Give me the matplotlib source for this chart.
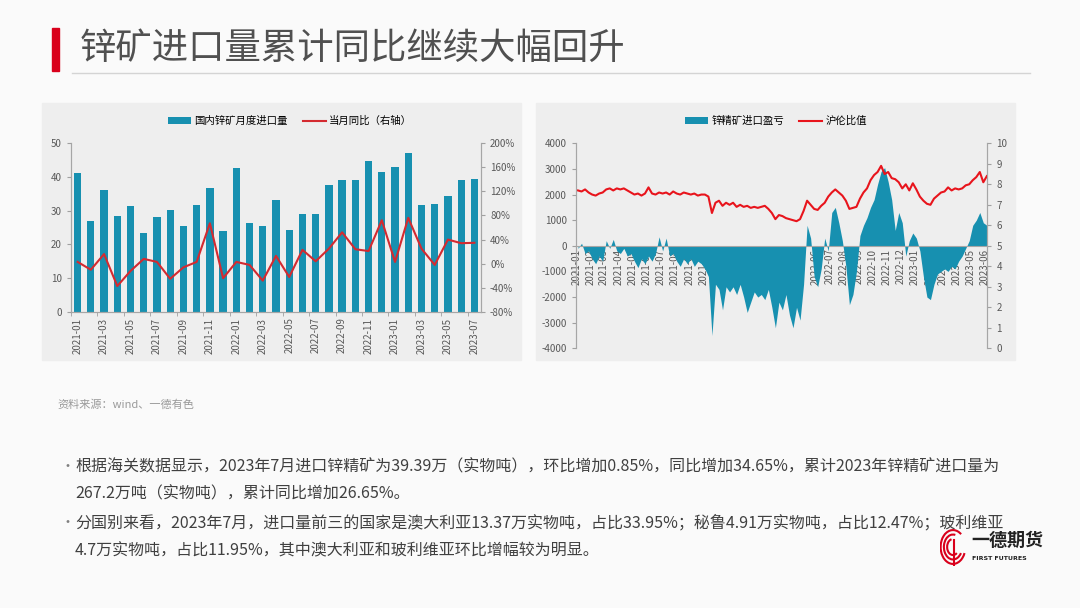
import numpy as np
import pandas as pd
import matplotlib
matplotlib.use('Agg')
import matplotlib.pyplot as plt
import matplotlib.dates as mdates
from matplotlib.patches import Rectangle, Arc
from matplotlib.lines import Line2D
from matplotlib.ticker import FuncFormatter

plt.rcParams['font.family'] = ['Noto Sans CJK SC', 'DejaVu Sans']
plt.rcParams['axes.unicode_minus'] = False

# ---- left chart: monthly zinc ore imports (10k t) and yoy (%)
months = ['2021-01', '2021-02', '2021-03', '2021-04', '2021-05', '2021-06', '2021-07', '2021-08',
          '2021-09', '2021-10', '2021-11', '2021-12', '2022-01', '2022-02', '2022-03', '2022-04',
          '2022-05', '2022-06', '2022-07', '2022-08', '2022-09', '2022-10', '2022-11', '2022-12',
          '2023-01', '2023-02', '2023-03', '2023-04', '2023-05', '2023-06', '2023-07']
imports = [41.0, 27.0, 36.0, 28.5, 31.3, 23.3, 28.0, 30.3, 25.3, 31.8, 36.8, 24.0,
           42.5, 26.3, 25.3, 33.0, 24.3, 29.0, 29.0, 37.5, 39.0, 39.2, 44.8, 41.5,
           43.0, 47.0, 31.8, 32.0, 34.3, 39.0, 39.39]
yoy = [3, -10, 16, -37, -12, 8, 3, -25, -6, 3, 67, -24,
       3, -2, -28, 13, -22, 23, 4, 25, 52, 24, 21, 72,
       3, 76, 25, -2, 40, 34, 34.65]

# ---- right chart: import profit (yuan/t) and SHFE/LME ratio, ~weekly readings
profit = [-100, 100, -300, -200,  -500, -700, -400, -600,  200, -100, 250, -200,
          -300, -100, -400, -300,  -600, -850, -500, -700,  -400, -600, -300, 350,
          -200, 300, -400, -300,  -600, -800, -500, -700,  -500, -800, -600, -700,
          -900, -1200, -3500, -1500,  -1700, -2500, -1600, -1800,  -1600, -1900, -1500, -2000,
          -2600, -2200, -1800, -2000,  -1900, -2100, -1700, -2400,  -3200, -2200, -2500, -1900,
          -2700, -3200, -2400, -2900,  -1500, 800, 300, -1200,  -1600, -900, 300, -200,
          1300, 1500, 900, 200,  -800, -2300, -1900, -1000,  400, 800, 1100, 1500,
          1800, 2400, 2900, 3050,  2500, 1800, 600, 1300,  900, -400, 200, 500,
          300, -200, -1200, -2000,  -2100, -1500, -1100, -1000,  -900, -1000, -800, -900,
          -600, -400, -100, 200,  800, 1000, 1300, 900,  800]
ratio = [7.7, 7.65, 7.75, 7.6,  7.5, 7.45, 7.55, 7.6,  7.75, 7.8, 7.7, 7.8,
         7.75, 7.8, 7.7, 7.6,  7.5, 7.55, 7.45, 7.55,  7.85, 7.55, 7.5, 7.6,
         7.55, 7.6, 7.5, 7.65,  7.55, 7.5, 7.6, 7.55,  7.5, 7.55, 7.45, 7.5,
         7.5, 7.4, 6.6, 7.1,  7.2, 6.95, 7.1, 7.0,  7.1, 6.9, 7.0, 6.9,
         6.95, 6.85, 6.9, 6.85,  6.9, 6.95, 6.8, 6.6,  6.3, 6.5, 6.45, 6.35,
         6.3, 6.25, 6.2, 6.3,  6.7, 7.2, 7.0, 6.8,  6.75, 6.95, 7.1, 7.4,
         7.6, 7.75, 7.6, 7.45,  7.2, 6.8, 6.85, 6.9,  7.3, 7.6, 7.8, 8.2,
         8.45, 8.6, 8.9, 8.5,  8.6, 8.3, 8.25, 8.1,  7.8, 8.0, 7.7, 8.05,
         7.75, 7.4, 7.2, 7.05,  7.0, 7.3, 7.45, 7.6,  7.65, 7.85, 7.7, 7.8,
         7.75, 7.8, 7.95, 8.0,  8.2, 8.35, 8.6, 8.1,  8.4]
dates = pd.date_range('2021-01-04', '2023-06-05', periods=len(ratio))

teal = '#1790b0'
grey = '#595959'

fig = plt.figure(figsize=(10.8, 6.08), dpi=100, facecolor='#fafafa')

# title
fig.patches.append(Rectangle((52/1080, 1-71/608), 7/1080, 43/608, transform=fig.transFigure,
                             color='#d9001b', zorder=-5))
fig.text(80/1080, 1-49/608, '锌矿进口量累计同比继续大幅回升', fontsize=26.2, color='#505050',
         va='center', ha='left')
fig.add_artist(Line2D([72/1080, 1030/1080], [1-73/608, 1-73/608], transform=fig.transFigure,
                      color='#d4d4d4', lw=1))

# panel backgrounds
for x0 in [42, 536]:
    fig.patches.append(Rectangle((x0/1080, 1-360/608), 479/1080, 257/608,
                                 transform=fig.transFigure, color='#eeeeee', zorder=-10))

# left chart
ax1 = fig.add_axes([71/1080, 1-312/608, 410/1080, 169/608])
ax1.set_facecolor('none')
x = np.arange(len(imports))
ax1.bar(x, imports, width=0.55, color=teal, zorder=2, label='国内锌矿月度进口量')
ax1.set_xlim(-0.5, len(imports)-0.5)
ax1.set_ylim(0, 50)
ax1.set_yticks(range(0, 51, 10))
ax1.set_xticks(x[::2])
ax1.set_xticklabels(months[::2], rotation=90, fontsize=7, color=grey)
ax1.set_xticks(np.arange(-0.5, len(imports), 2), minor=True)
ax1.tick_params(axis='x', which='major', length=0, pad=4)
ax1.tick_params(axis='x', which='minor', length=3, color='#a0a0a0')
ax1.tick_params(axis='y', labelsize=7, labelcolor=grey, length=3, color='#a0a0a0')
ax1b = ax1.twinx()
ax1b.plot(x, yoy, color='#d42a30', lw=1.5, label='当月同比（右轴）')
ax1b.set_ylim(-80, 200)
ax1b.set_yticks(range(-80, 201, 40))
ax1b.yaxis.set_major_formatter(FuncFormatter(lambda v, p: f'{v:.0f}%'))
ax1b.tick_params(axis='y', labelsize=7, labelcolor=grey, length=3, color='#a0a0a0')
for a in (ax1, ax1b):
    a.spines['top'].set_visible(False)
    for s in ('left', 'right', 'bottom'):
        a.spines[s].set_color('#a6a6a6')
        a.spines[s].set_linewidth(0.8)
h1, l1 = ax1.get_legend_handles_labels()
h2, l2 = ax1b.get_legend_handles_labels()
fig.legend(h1 + h2, l1 + l2, loc='center', bbox_to_anchor=(290/1080, 1-121/608), ncol=2,
           frameon=False, fontsize=7.5, handlelength=2.2, handleheight=0.6, columnspacing=1.5,
           handletextpad=0.3)

# right chart
ax2 = fig.add_axes([575.7/1080, 1-348.3/608, 411.6/1080, 205/608])
ax2.set_facecolor('none')
ax2.fill_between(dates, 0, profit, color=teal, lw=0, zorder=2, label='锌精矿进口盈亏')
ax2.set_ylim(-4000, 4000)
ax2.set_yticks(range(-4000, 4001, 1000))
ax2.set_xlim(pd.Timestamp('2020-12-30'), pd.Timestamp('2023-06-06'))
ax2.xaxis.set_major_locator(mdates.MonthLocator())
ax2.xaxis.set_major_formatter(mdates.DateFormatter('%Y-%m'))
ax2.spines['bottom'].set_position(('data', 0))
ax2.tick_params(axis='x', labelsize=7, labelcolor=grey, rotation=90, length=0, pad=2)
ax2.tick_params(axis='y', labelsize=7, labelcolor=grey, length=3, color='#a0a0a0')
ax2b = ax2.twinx()
ax2b.plot(dates, ratio, color='#e8141c', lw=1.5, label='沪伦比值')
ax2b.set_ylim(0, 10)
ax2b.set_yticks(range(0, 11))
ax2b.tick_params(axis='y', labelsize=7, labelcolor=grey, length=3, color='#a0a0a0')
for a in (ax2, ax2b):
    a.spines['top'].set_visible(False)
    for s in ('left', 'right', 'bottom'):
        a.spines[s].set_color('#a6a6a6')
        a.spines[s].set_linewidth(0.8)
ax2b.spines['bottom'].set_visible(False)
h1, l1 = ax2.get_legend_handles_labels()
h2, l2 = ax2b.get_legend_handles_labels()
fig.legend(h1 + h2, l1 + l2, loc='center', bbox_to_anchor=(776/1080, 1-121/608), ncol=2,
           frameon=False, fontsize=7.5, handlelength=2.2, handleheight=0.6, columnspacing=1.5,
           handletextpad=0.3)

# source
fig.text(57/1080, 1-405/608, '资料来源：wind、一德有色', fontsize=8, color='#9a9a9a', va='center')

# bullet text
lines = [(467, True, '根据海关数据显示，2023年7月进口锌精矿为39.39万（实物吨），环比增加0.85%，同比增加34.65%，累计2023年锌精矿进口量为'),
         (494, False, '267.2万吨（实物吨），累计同比增加26.65%。'),
         (523, True, '分国别来看，2023年7月，进口量前三的国家是澳大利亚13.37万实物吨，占比33.95%；秘鲁4.91万实物吨，占比12.47%；玻利维亚'),
         (551, False, '4.7万实物吨，占比11.95%，其中澳大利亚和玻利维亚环比增幅较为明显。')]
for y, bullet, s in lines:
    if bullet:
        fig.text(60/1080, 1-y/608, '•', fontsize=10, color='#7f7f7f', va='center')
    fig.text(75/1080, 1-y/608, s, fontsize=11.5, color='#404040', va='center')

# logo
lax = fig.add_axes([940/1080, 1-566/608, 26/1080, 38/608])
lax.set_xlim(-1, 1)
lax.set_ylim(-1.6, 1.6)
lax.axis('off')
for r, t1, t2 in [(0.95, 60, 330), (0.7, 80, 320), (0.45, 100, 300)]:
    lax.add_patch(Arc((0, 0), 2*r, 3*r, theta1=t1, theta2=t2, color='#d9001b', lw=1.5))
lax.plot([0.1, 0.1], [-1.5, 0.6], color='#d9001b', lw=1.5)
fig.text(971/1080, 1-540/608, '一德期货', fontsize=13, fontweight='bold', color='#222222', va='center')
fig.text(972/1080, 1-559/608, 'FIRST FUTURES', fontsize=4.5, fontweight='bold', color='#222222',
         va='center', family='DejaVu Sans')

fig.savefig('out.png', dpi=100, facecolor=fig.get_facecolor())
